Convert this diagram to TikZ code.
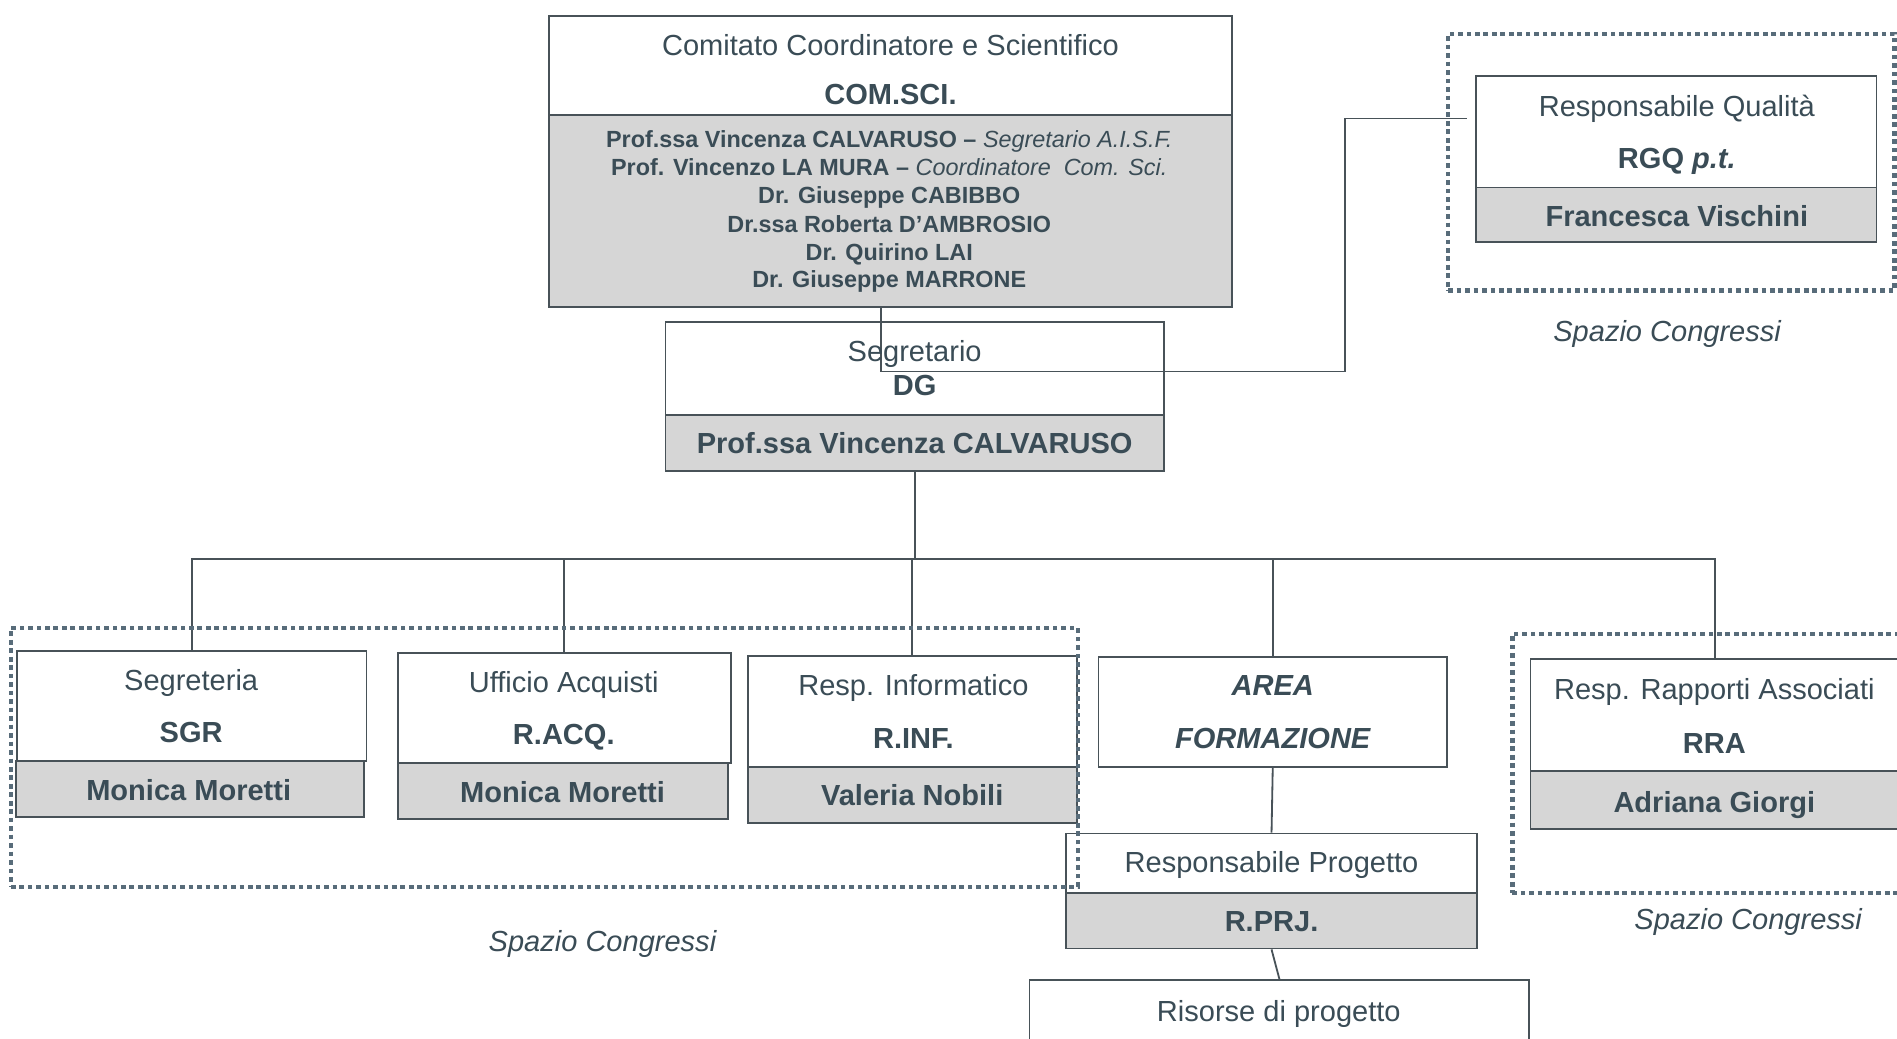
\documentclass[tikz,border=0pt]{standalone}
\usepackage{fontspec}
\setmainfont{Liberation Sans}
\definecolor{textc}{RGB}{58,76,86}
\definecolor{linec}{RGB}{72,82,88}
\definecolor{dotc}{RGB}{88,108,122}
\definecolor{grayf}{RGB}{214,214,214}
\tikzset{
 wbox/.style={draw=linec, line width=0.9pt, fill=white, inner sep=0pt},
 gbox/.style={draw=linec, line width=0.9pt, fill=grayf, inner sep=0pt},
 zone/.style={draw=dotc, line width=2.2pt, dash pattern=on 2.3pt off 1.9pt, inner sep=0pt},
 lbl/.style={text=textc, font=\fontsize{14.4}{17}\selectfont, inner sep=0pt, text height=10.3pt, text depth=0pt},
 lbb/.style={lbl, font=\fontsize{14.4}{17}\selectfont\bfseries},
 lbi/.style={lbl, font=\fontsize{14.4}{17}\selectfont\itshape},
 lbbi/.style={lbl, font=\fontsize{14.4}{17}\selectfont\bfseries\itshape},
 sml/.style={text=textc, font=\fontsize{11.6}{14}\selectfont\bfseries, inner sep=0pt, text height=8.3pt, text depth=0pt},
 conn/.style={draw=linec, line width=0.9pt},
}
\newcommand\bx[6]{\node[#6, minimum width={(#4-#2)*0.6pt}, minimum height={(#5-#3)*0.6pt}] (#1) at ({(#2+#4)/2},{(#3+#5)/2}) {};}
\begin{document}
\begin{tikzpicture}[x=0.6pt,y=-0.6pt]
\useasboundingbox (0,0) rectangle (1568,858);
\clip (0,0) rectangle (1568,858);
\fill[white] (0,0) rectangle (1568,858);
% boxes
\bx{csT}{454}{13}{1018}{95}{wbox}
\bx{csB}{454}{95}{1018}{254}{gbox}
\bx{dgT}{550}{266}{962}{343}{wbox}
\bx{dgB}{550}{343}{962}{389}{gbox}
\bx{rgqT}{1220}{63}{1551}{155}{wbox}
\bx{rgqB}{1220}{155}{1551}{200}{gbox}
\bx{sgrT}{14}{538}{303}{629}{wbox}
\bx{sgrB}{13}{629}{301}{675}{gbox}
\bx{racqT}{329}{540}{604}{631}{wbox}
\bx{racqB}{329}{631}{602}{677}{gbox}
\bx{rinfT}{618}{542}{890}{634}{wbox}
\bx{rinfB}{618}{634}{890}{680}{gbox}
\bx{areaT}{908}{543}{1196}{634}{wbox}
\bx{rprjT}{881}{689}{1221}{738}{wbox}
\bx{rprjB}{881}{738}{1221}{784}{gbox}
\bx{ris}{851}{810}{1264}{880}{wbox}
\bx{rraT}{1265}{545}{1570}{637}{wbox}
\bx{rraB}{1265}{637}{1570}{685}{gbox}
% connectors
\coordinate (kink) at (1112,307);
\coordinate (bus) at (756,462);
\draw[conn, shorten >=4.2pt] ([xshift=-4.8pt]csB.south) |- (kink) |- ([yshift=6.6pt]rgqT.west);
\draw[conn] (dgB.south) -- (bus);
\draw[conn] (sgrT.north) |- (bus) -| (rraT.north);
\draw[conn] (racqT.north) -- (racqT.north |- bus);
\draw[conn] (rinfT.north) -- (rinfT.north |- bus);
\draw[conn] (areaT.north) -- (areaT.north |- bus);
\draw[conn] (areaT.south) -- (rprjT.north);
\draw[conn] (rprjB.south) -- (ris.north);
% texts
\node[lbl] (csTa) at (736,37) {Comitato Coordinatore e Scientifico};
\node[lbb] (csTb) at (736,78) {COM.SCI.};
\node[sml] (m1) at (735,115) {Prof.ssa Vincenza CALVARUSO – {\mdseries\itshape Segretario A.I.S.F.}};
\node[sml] (m2) at (735,138) {Prof. Vincenzo LA MURA – {\mdseries\itshape Coordinatore\ \ Com. Sci.}};
\node[sml] (m3) at (735,161) {Dr. Giuseppe CABIBBO};
\node[sml] (m4) at (735,185) {Dr.ssa Roberta D’AMBROSIO};
\node[sml] (m5) at (735,208) {Dr. Quirino LAI};
\node[sml] (m6) at (735,231) {Dr. Giuseppe MARRONE};
\node[lbl] (dgTa) at (756,290) {Segretario};
\node[lbb] (dgTb) at (756,318) {DG};
\node[lbb] (dgBa) at (756,366) {Prof.ssa Vincenza CALVARUSO};
\node[lbl] (rgqTa) at (1386,88) {Responsabile Qualità};
\node[lbb] (rgqTb) at (1386,131) {RGQ \textit{p.t.}};
\node[lbb] (rgqBa) at (1386,179) {Francesca Vischini};
\node[lbl] (sgrTa) at (158,562) {Segreteria};
\node[lbb] (sgrTb) at (158,605) {SGR};
\node[lbb] (sgrBa) at (156,653) {Monica Moretti};
\node[lbl] (racqTa) at (466,564) {Ufficio Acquisti};
\node[lbb] (racqTb) at (466,607) {R.ACQ.};
\node[lbb] (racqBa) at (465,655) {Monica Moretti};
\node[lbl] (rinfTa) at (755,566) {Resp. Informatico};
\node[lbb] (rinfTb) at (755,610) {R.INF.};
\node[lbb] (rinfBa) at (754,657) {Valeria Nobili};
\node[lbbi] (areaTa) at (1052,566) {AREA};
\node[lbbi] (areaTb) at (1052,610) {FORMAZIONE};
\node[lbl] (rprjTa) at (1051,713) {Responsabile Progetto};
\node[lbb] (rprjBa) at (1051,761) {R.PRJ.};
\node[lbl] (risa) at (1057,836) {Risorse di progetto};
\node[lbl] (rraTa) at (1417,570) {Resp. Rapporti Associati};
\node[lbb] (rraTb) at (1417,614) {RRA};
\node[lbb] (rraBa) at (1417,663) {Adriana Giorgi};
% zones
\bx{zL}{9}{519}{891}{733}{zone}
\bx{zR}{1250}{524}{1590}{738}{zone}
\bx{zQ}{1197}{28}{1566}{240}{zone}
\node[lbi] (zLt) at (498,778) {Spazio Congressi};
\node[lbi] (zRt) at (1445,760) {Spazio Congressi};
\node[lbi] (zQt) at (1378,274) {Spazio Congressi};
\end{tikzpicture}
\end{document}
